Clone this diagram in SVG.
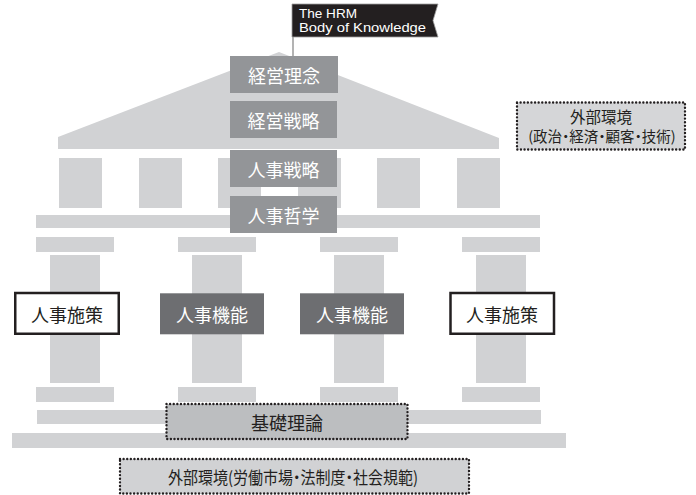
<svg xmlns="http://www.w3.org/2000/svg" width="696" height="495" viewBox="0 0 696 495">
<style>
.t{fill:#d1d2d4}
.jp{font-family:"Noto Sans CJK JP","Noto Sans",sans-serif;text-anchor:middle;dominant-baseline:central;font-feature-settings:"palt"}
.w{fill:#ffffff;font-size:18px}
.k{fill:#231f20;font-size:18px}
.stack{fill:#939598}
.func{fill:#6d6e71}
.policy{fill:#ffffff;stroke:#231f20;stroke-width:2.5}
.dot{stroke:#231f20;stroke-width:2.4;stroke-dasharray:0.01 3.6;stroke-linecap:round}
</style>
<rect width="696" height="495" fill="#ffffff"/>
<g id="temple">
<polygon class="t" points="58,149 58,137 279,52 499,138 499,149"/>
<rect class="t" x="59" y="158" width="43" height="50"/>
<rect class="t" x="139" y="158" width="43" height="50"/>
<rect class="t" x="218" y="158" width="43" height="50"/>
<rect class="t" x="298" y="158" width="43" height="50"/>
<rect class="t" x="377" y="158" width="43" height="50"/>
<rect class="t" x="457" y="158" width="43" height="50"/>
<rect class="t" x="36" y="215" width="504" height="13"/>
<rect class="t" x="36" y="237" width="78" height="15"/>
<rect class="t" x="178" y="237" width="78" height="15"/>
<rect class="t" x="320" y="237" width="78" height="15"/>
<rect class="t" x="462" y="237" width="78" height="15"/>
<rect class="t" x="50" y="255" width="50" height="128"/>
<rect class="t" x="192" y="255" width="50" height="128"/>
<rect class="t" x="334" y="255" width="50" height="128"/>
<rect class="t" x="476" y="255" width="50" height="128"/>
<rect class="t" x="36" y="387" width="78" height="15"/>
<rect class="t" x="178" y="387" width="78" height="15"/>
<rect class="t" x="320" y="387" width="78" height="15"/>
<rect class="t" x="462" y="387" width="78" height="15"/>
<rect class="t" x="37" y="410" width="504" height="14"/>
<rect class="t" x="12" y="433" width="554" height="15"/>
</g>
<g id="flag">
<line x1="293" y1="20" x2="293" y2="57" stroke="#b3b3b3" stroke-width="2"/>
<polygon points="292,4 438,4 433,20.5 438,37 292,37" fill="#231f20" stroke="#a0a0a0" stroke-width="0.8"/>
<text x="299" y="18" font-family="'Liberation Sans',Arial,sans-serif" font-size="13" fill="#ffffff" textLength="58" lengthAdjust="spacingAndGlyphs">The HRM</text>
<text x="299" y="32" font-family="'Liberation Sans',Arial,sans-serif" font-size="13" fill="#ffffff" textLength="127" lengthAdjust="spacingAndGlyphs">Body of Knowledge</text>
</g>
<g id="keiei-rinen"><rect class="stack" x="230" y="56" width="108" height="37"/><text class="jp w" x="284" y="74.5">経営理念</text></g>
<g id="keiei-senryaku"><rect class="stack" x="230" y="101" width="107" height="37"/><text class="jp w" x="283.5" y="119.5">経営戦略</text></g>
<g id="jinji-senryaku"><rect class="stack" x="230" y="150" width="107" height="37"/><text class="jp w" x="283.5" y="168.5">人事戦略</text></g>
<g id="jinji-tetsugaku"><rect class="stack" x="230" y="196" width="107" height="37"/><text class="jp w" x="283.5" y="214.5">人事哲学</text></g>
<g id="gaibu-kankyo-right"><rect x="517" y="102.5" width="168" height="47" fill="#d5d6d8" class="dot"/><text class="jp k" x="601" y="115.5" style="font-size:15.5px">外部環境</text><text class="jp k" x="602" y="135.5" style="font-size:14.5px">(政治・経済・顧客・技術)</text></g>
<g id="jinji-shisaku-left"><rect class="policy" x="15.25" y="293" width="103.5" height="40.75"/><text class="jp k" x="67" y="313.5">人事施策</text></g>
<g id="jinji-kino-1"><rect class="func" x="160" y="293.3" width="104" height="41"/><text class="jp w" x="212" y="313.8">人事機能</text></g>
<g id="jinji-kino-2"><rect class="func" x="300" y="293.3" width="104" height="41"/><text class="jp w" x="352" y="313.8">人事機能</text></g>
<g id="jinji-shisaku-right"><rect class="policy" x="450.5" y="293" width="103.5" height="40.75"/><text class="jp k" x="502" y="313.5">人事施策</text></g>
<g id="kiso-riron"><rect x="166.5" y="404" width="241" height="35" fill="#bcbec0" class="dot"/><text class="jp k" x="287" y="421.5">基礎理論</text></g>
<g id="gaibu-kankyo-bottom"><rect x="120" y="459" width="349" height="34.5" fill="#d1d2d4" class="dot"/><text class="jp k" x="293" y="476" style="font-size:17px" textLength="250" lengthAdjust="spacingAndGlyphs">外部環境(労働市場・法制度・社会規範)</text></g>
<g id="connectors"></g>
</svg>
